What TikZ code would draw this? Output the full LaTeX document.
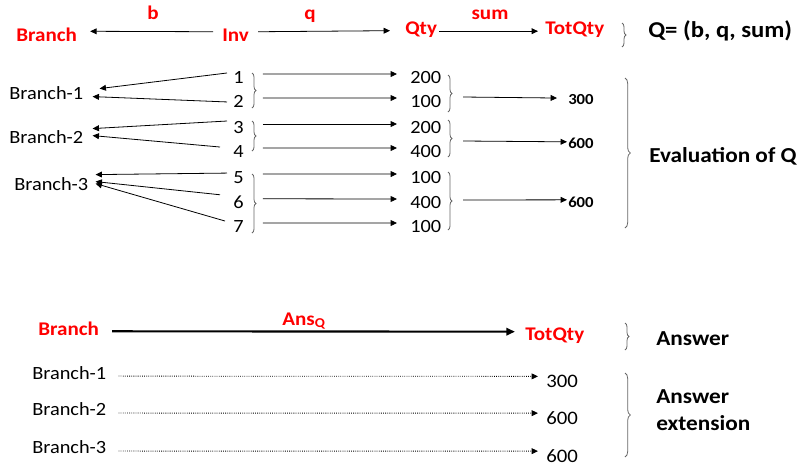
\documentclass[tikz,border=0pt]{standalone}
\usepackage{fontspec}
\setmainfont{Carlito}[FakeStretch=1.09]
\usetikzlibrary{arrows.meta,calc,decorations.pathreplacing}
\begin{document}
\begin{tikzpicture}[x=0.75pt,y=-0.75pt,
  txt/.style={inner sep=0pt, anchor=base west},
  redb/.style={txt, text=red, font=\fontsize{14.5pt}{14.5pt}\selectfont\bfseries},
  bigb/.style={txt, font=\fontsize{17pt}{17pt}\selectfont\bfseries},
  evb/.style={txt, font=\fontsize{16pt}{16pt}\selectfont\bfseries},
  ansb/.style={txt, font=\fontsize{16pt}{16pt}\selectfont\bfseries},
  brn/.style={txt, font=\fontsize{14pt}{14pt}\selectfont},
  num/.style={txt, font=\fontsize{14pt}{14pt}\selectfont},
  sumb/.style={txt, font=\fontsize{11.5pt}{11.5pt}\selectfont\bfseries},
  brn15/.style={txt, font=\fontsize{14pt}{14pt}\selectfont},
  val15/.style={txt, font=\fontsize{14.3pt}{14.3pt}\selectfont},
  arr/.style={-{Triangle[length=4.8pt,width=4.4pt]}, line width=0.6pt},
  thickarr/.style={-{Triangle[length=6.5pt,width=5.5pt]}, line width=1.6pt},
  dotarr/.style={-{Triangle[length=4.8pt,width=4.4pt]}, line width=0.6pt, densely dotted},
  brc/.style={draw=black!60, line width=0.6pt, decorate, decoration={brace, amplitude=3pt}},
  bigbrc/.style={draw=black!60, line width=0.6pt, decorate, decoration={brace, amplitude=4pt}}
]
\useasboundingbox (0,0) rectangle (800,469);

% ---------- top row ----------
\node[redb] (br) at (16,41) {Branch};
\node[redb] (inv) at (222,41) {Inv};
\node[redb] (qty) at (405,34) {Qty};
\node[redb] (tot) at (545,34) {TotQty};
\node[redb, anchor=base] (lb) at (153,19) {b};
\node[redb, anchor=base] (lq) at (310,19) {q};
\node[redb, anchor=base] (ls) at (490,19) {sum};
\draw[arr] ($(inv.west)+(-9,-3)$) -- ($(br.east)+(13,-3)$);
\draw[arr] ($(inv.east)+(9,-3)$) -- ($(qty.west)+(-15,1.5)$);
\draw[arr] ($(qty.east)+(2,2)$) -- ($(tot.west)+(-7,2)$);
\draw[brc] (622,23) -- (622,47);
\node[bigb] (qdef) at (648,37) {Q= (b, q, sum)};

% ---------- evaluation ----------
\node[brn] (b1) at (9,99) {Branch-1};
\node[brn] (b2) at (9,143) {Branch-2};
\node[brn] (b3) at (14,190) {Branch-3};

\node[num] (n1) at (233,83) {1};
\node[num] (n2) at (233,107) {2};
\node[num] (n3) at (233,133) {3};
\node[num] (n4) at (233,157) {4};
\node[num] (n5) at (233,183) {5};
\node[num] (n6) at (233,208) {6};
\node[num] (n7) at (233,232) {7};

\node[num] (v1) at (410,83) {200};
\node[num] (v2) at (410,107) {100};
\node[num] (v3) at (410,133) {200};
\node[num] (v4) at (410,157) {400};
\node[num] (v5) at (410,183) {100};
\node[num] (v6) at (410,208) {400};
\node[num] (v7) at (410,232) {100};

\node[sumb] (s1) at (568,104) {300};
\node[sumb] (s2) at (568,148) {600};
\node[sumb] (s3) at (568,207) {600};

\node[evb] (ev) at (649,162) {Evaluation of Q};

% arrows numbers -> branches
\draw[arr] ($(n1.west)+(-6,-4)$) -- ($(b1.east)+(16,-4)$);
\draw[arr] ($(n2.west)+(-6,1)$) -- ($(b1.east)+(9,4)$);
\draw[arr] ($(n3.west)+(-6,-6)$) -- ($(b2.east)+(9,-8)$);
\draw[arr] ($(n4.west)+(-13,-4)$) -- ($(b2.east)+(9,-1)$);
\draw[arr] ($(n5.west)+(-6,-4)$) -- ($(b3.east)+(7,-9)$);
\draw[arr] ($(n6.west)+(-13,-7)$) -- ($(b3.east)+(7,-2)$);
\draw[arr] ($(n7.west)+(-8,-5)$) -- ($(b3.east)+(7,0)$);

% arrows numbers -> quantities
\foreach \i in {1,...,7}{
  \draw[arr] ($(n\i.east)+(19,-3)$) -- ($(v\i.west)+(-13,-3)$);
}

% braces
\draw[brc] (252,73) -- (252,108);
\draw[brc] (252,121) -- (252,151);
\draw[brc] (252,174) -- (252,233);
\draw[brc] (448,75) -- (448,112);
\draw[brc] (448,120) -- (448,157);
\draw[brc] (448,172) -- (448,230);
\draw[bigbrc] (625,78) -- (625,228);

\coordinate (qb1) at (463,97);
\coordinate (qb2) at (463,141);
\coordinate (qb3) at (463,200);
\draw[arr] (qb1) -- ($(s1.west)+(-11,-1)$);
\draw[arr] (qb2) -- ($(s2.west)+(-1,-1)$);
\draw[arr] (qb3) -- ($(s3.west)+(-1,-2)$);

% ---------- answer ----------
\node[redb] (brB) at (38,335) {Branch};
\node[redb] (totB) at (525,340) {TotQty};
\node[redb] (ans) at (282,325) {Ans\textsubscript{Q}};
\draw[thickarr] ($(brB.east)+(13,3)$) -- ($(totB.west)+(-10,-3.5)$);
\draw[brc] (625,323) -- (625,350);
\node[ansb] (answ) at (656,345) {Answer};

\node[brn15] (c1) at (32,379) {Branch-1};
\node[brn15] (c2) at (32,415) {Branch-2};
\node[brn15] (c3) at (32,453) {Branch-3};
\node[val15] (a1) at (546,387) {300};
\node[val15] (a2) at (546,424) {600};
\node[val15] (a3) at (546,462) {600};
\draw[dotarr] ($(c1.east)+(12,3.5)$) -- ($(a1.west)+(-8,-4.5)$);
\draw[dotarr] ($(c2.east)+(12,4.5)$) -- ($(a2.west)+(-8,-4.5)$);
\draw[dotarr] ($(c3.east)+(12,4.5)$) -- ($(a3.west)+(-8,-4.5)$);
\draw[bigbrc] (625,373) -- (625,457);
\node[ansb] (ext1) at (656,403) {Answer};
\node[ansb] (ext2) at (656,430) {extension};
\end{tikzpicture}
\end{document}
